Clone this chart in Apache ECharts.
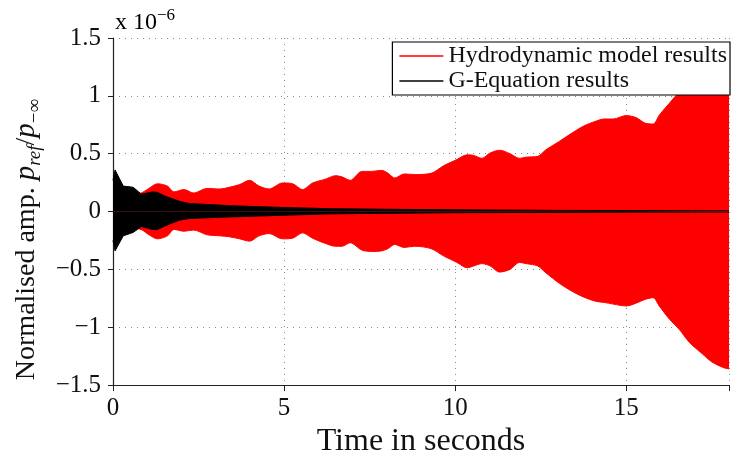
<!DOCTYPE html>
<html>
<head>
<meta charset="utf-8">
<script src="https://cdn.jsdelivr.net/npm/echarts@6/dist/echarts.min.js"></script>
<style>html,body{margin:0;padding:0;background:#fff}#c{width:732px;height:463px}</style>
</head>
<body>
<div id="c"></div>
<script>
// Envelope of the hydrodynamic model signal (x 1e-6)
var redTime  = [0, 0.5, 0.82, 1.05, 1.3, 1.59, 1.78, 2.07, 2.36, 2.74, 3.12, 3.4, 3.7, 3.99, 4.27, 4.56, 4.95, 5.25, 5.54, 5.83, 6.21, 6.5, 6.69, 6.93, 7.27, 7.56, 7.85, 8.04, 8.23, 8.51, 8.81, 9.29, 9.67, 10.05, 10.35, 10.54, 10.78, 11.02, 11.3, 11.6, 11.88, 12.07, 12.41, 12.65, 13.04, 13.42, 13.76, 14.1, 14.34, 14.62, 15.0, 15.3, 15.54, 15.78, 15.97, 16.26, 16.55, 16.84, 17.22, 17.5, 17.85, 18];
var redUpper = [0.12, 0.14, 0.16, 0.2, 0.24, 0.22, 0.17, 0.19, 0.16, 0.2, 0.195, 0.21, 0.233, 0.27, 0.22, 0.195, 0.247, 0.24, 0.19, 0.247, 0.28, 0.31, 0.3, 0.27, 0.347, 0.347, 0.356, 0.33, 0.29, 0.325, 0.32, 0.33, 0.397, 0.45, 0.49, 0.485, 0.46, 0.506, 0.53, 0.5, 0.46, 0.47, 0.477, 0.534, 0.606, 0.68, 0.74, 0.78, 0.8, 0.8, 0.83, 0.81, 0.765, 0.756, 0.836, 0.937, 1.037, 1.15, 1.28, 1.36, 1.42, 1.44];
var redLower = [-0.12, -0.14, -0.155, -0.2, -0.236, -0.21, -0.155, -0.17, -0.16, -0.2, -0.21, -0.218, -0.236, -0.256, -0.21, -0.19, -0.236, -0.23, -0.184, -0.23, -0.276, -0.3, -0.3, -0.27, -0.333, -0.345, -0.34, -0.32, -0.284, -0.31, -0.3, -0.32, -0.385, -0.44, -0.486, -0.47, -0.45, -0.47, -0.523, -0.5, -0.44, -0.45, -0.47, -0.53, -0.62, -0.69, -0.74, -0.775, -0.785, -0.8, -0.816, -0.79, -0.76, -0.744, -0.82, -0.93, -1.02, -1.13, -1.23, -1.3, -1.35, -1.36];
// Envelope of the G-Equation signal (x 1e-6)
var blackTime  = [0, 0.06, 0.3, 0.59, 0.83, 1.16, 1.3, 1.55, 1.93, 2.22, 3.46, 5.0, 6.35, 8, 10, 13, 15, 18];
var blackUpper = [0.27, 0.36, 0.22, 0.21, 0.15, 0.17, 0.165, 0.13, 0.09, 0.07, 0.05, 0.035, 0.025, 0.02, 0.015, 0.01, 0.008, 0.006];
var blackLower = [-0.25, -0.34, -0.21, -0.18, -0.13, -0.155, -0.155, -0.12, -0.075, -0.06, -0.046, -0.032, -0.02, -0.015, -0.01, -0.007, -0.005, -0.004];
var xTicks = [0, 5, 10, 15];
var yTicks = [-1.5, -1, -0.5, 0, 0.5, 1, 1.5];
var legendNames = ['Hydrodynamic model results', 'G-Equation results'];

function zip(a, b) { return a.map(function (v, i) { return [v, b[i]]; }); }
var serif = '"Liberation Serif", "DejaVu Serif", serif';
var gridLine = { show: true, lineStyle: { color: '#888', width: 1, type: [1, 5] } };

function env(name, color, xs, ys, smooth, z) {
  return {
    name: name, type: 'line', data: zip(xs, ys), symbol: 'none', smooth: smooth, z: z,
    lineStyle: { color: color, width: 1 }, itemStyle: { color: color },
    areaStyle: { color: color, opacity: 1 }, animation: false
  };
}

var chart = echarts.init(document.getElementById('c'));
chart.setOption({
  animation: false,
  title: {
    text: 'x 10{sup|\u22126}', left: 110, top: 2,
    textStyle: { fontFamily: serif, fontSize: 24, fontWeight: 'normal', color: '#000', lineHeight: 32,
      rich: { sup: { fontFamily: serif, fontSize: 17, verticalAlign: 'top', lineHeight: 18 } } }
  },
  legend: {
    data: legendNames, orient: 'vertical', right: 2, top: 42,
    backgroundColor: '#fff', borderColor: '#000', borderWidth: 1.2,
    padding: [2, 3, 2, 7], itemGap: 1, itemWidth: 44, itemHeight: 1.5, icon: 'rect',
    textStyle: { fontFamily: serif, fontSize: 24, lineHeight: 22, color: '#111' }, selectedMode: false
  },
  grid: { left: 113, right: -5, top: 38, bottom: 77, containLabel: false },
  xAxis: {
    type: 'value', min: 0, max: 18, interval: 5,
    axisLine: { show: true, onZero: false, lineStyle: { color: '#222', width: 1.2 } },
    axisTick: { show: true, inside: false, length: 6, lineStyle: { color: '#222' } },
    axisLabel: { margin: 11, fontFamily: serif, fontSize: 25, color: '#111',
      formatter: function (v) { return xTicks.indexOf(v) >= 0 ? String(v) : ''; } },
    splitLine: gridLine,
    name: 'Time in seconds', nameLocation: 'middle', nameGap: 36,
    nameTextStyle: { fontFamily: serif, fontSize: 32, color: '#111' }
  },
  yAxis: {
    type: 'value', min: -1.5, max: 1.5, interval: 0.5,
    axisLine: { show: true, onZero: false, lineStyle: { color: '#222', width: 1.2 } },
    axisTick: { show: true, inside: false, length: 5, lineStyle: { color: '#222' } },
    axisLabel: { margin: 12, fontFamily: serif, fontSize: 25, color: '#111',
      formatter: function (v) { return yTicks.indexOf(v) >= 0 ? String(v).replace('-', '\u2212') : ''; } },
    splitLine: gridLine,
    name: '{n|Normalised amp. }{i|p}{sub|ref}{n|/}{i|p}{subn|\u2212\u221e}',
    nameLocation: 'middle', nameGap: 68, nameRotate: 90,
    nameTextStyle: { fontFamily: serif, fontSize: 28, color: '#111', padding: [0, 56, 0, 0],
      rich: {
        n: { fontFamily: serif, fontSize: 28, lineHeight: 36, color: '#111' },
        i: { fontFamily: serif, fontSize: 29, fontStyle: 'italic', lineHeight: 36, color: '#111' },
        sub: { fontFamily: serif, fontSize: 19, fontStyle: 'italic', verticalAlign: 'bottom', lineHeight: 18, color: '#111' },
        subn: { fontFamily: serif, fontSize: 19, verticalAlign: 'bottom', lineHeight: 18, color: '#111' }
      } }
  },
  series: [
    env(legendNames[0], '#ff0000', redTime, redUpper, 0.3, 2),
    env(legendNames[0], '#ff0000', redTime, redLower, 0.3, 2),
    env(legendNames[1], '#000000', blackTime, blackUpper, false, 3),
    env(legendNames[1], '#000000', blackTime, blackLower, false, 3)
  ]
});
</script>
</body>
</html>
